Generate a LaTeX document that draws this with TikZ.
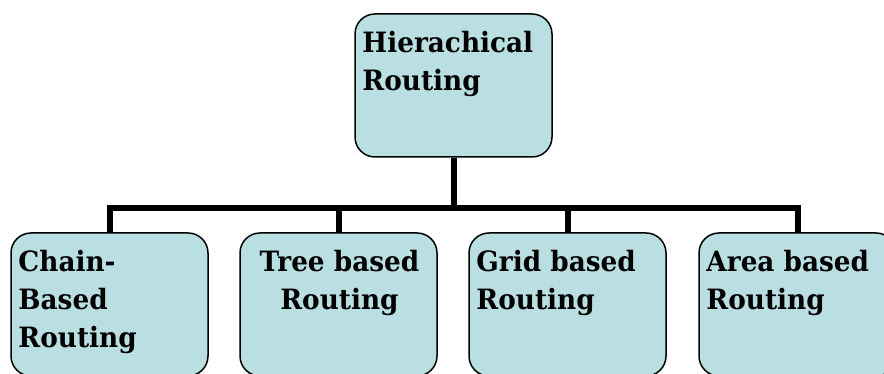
\documentclass[tikz,border=0pt]{standalone}
\usepackage{fontspec}
\setmainfont[FakeStretch=0.94]{DejaVu Serif}
\definecolor{boxfill}{RGB}{185,223,227}
\tikzset{
  box/.style={draw=black, line width=1.5pt, fill=boxfill, rounded corners=20pt,
              minimum width=197pt, minimum height=143pt, inner sep=0pt},
  conn/.style={draw=black, line width=6pt, line join=miter},
  lbl/.style={inner sep=0pt, text=black,
              font={\fontsize{28}{38}\selectfont\bfseries}}
}
\begin{document}
\begin{tikzpicture}[x=1pt,y=1pt]
  \useasboundingbox (0,0) rectangle (884,374);
  \clip (0,0) rectangle (884,374);

  % positions of the boxes
  \coordinate (ptop) at (453.5,288.5);
  \coordinate (p1) at (109.5,69.5);
  \coordinate (p2) at (338.5,69.5);
  \coordinate (p3) at (567.5,69.5);
  \coordinate (p4) at (797.5,69.5);
  \coordinate (bus) at (453.5,166);

  % boxes
  \node[box] (top) at (ptop) {};
  \node[box] (c1) at (p1) {};
  \node[box] (c2) at (p2) {};
  \node[box] (c3) at (p3) {};
  \node[box] (c4) at (p4) {};

  % tree connectors: trunk, bus line and drops
  \draw[conn] (top.south) -- (top.south |- bus);
  \draw[conn] (c1.north) |- (bus) -| (c4.north);
  \draw[conn] (c2.north) -- (c2.north |- bus);
  \draw[conn] (c3.north) -- (c3.north |- bus);

  % labels
  \node[lbl, anchor=north west, align=left] (t0)
    at ([xshift=8pt,yshift=-18pt]top.north west) {Hierachical\\Routing};
  \node[lbl, anchor=north west, align=left] (t1)
    at ([xshift=8pt,yshift=-18pt]c1.north west) {Chain-\\Based\\Routing};
  \node[lbl, anchor=north, align=center] (t2)
    at ([xshift=1pt,yshift=-18pt]c2.north) {Tree based\\Routing};
  \node[lbl, anchor=north west, align=left] (t3)
    at ([xshift=8pt,yshift=-18pt]c3.north west) {Grid based\\Routing};
  \node[lbl, anchor=north west, align=left] (t4)
    at ([xshift=8pt,yshift=-18pt]c4.north west) {Area based\\Routing};
\end{tikzpicture}
\end{document}
